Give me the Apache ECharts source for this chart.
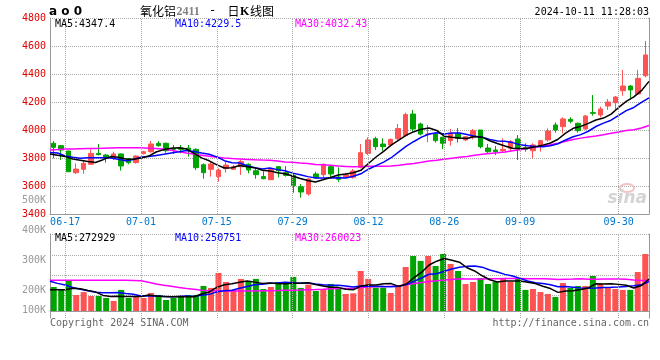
<!DOCTYPE html>
<html><head><meta charset="utf-8">
<script src="https://cdn.jsdelivr.net/npm/echarts@6/dist/echarts.min.js"></script>
<style>html,body{margin:0;padding:0;background:#fff}#c{width:660px;height:360px}</style>
</head><body><div id="c"></div>
<script>
// ---------- data ----------
const dates = ['06-13','06-14','06-17','06-18','06-19','06-20','06-21','06-24','06-25','06-26','06-27','06-28',
'07-01','07-02','07-03','07-04','07-05','07-08','07-09','07-10','07-11','07-12',
'07-15','07-16','07-17','07-18','07-19','07-22','07-23','07-24','07-25','07-26',
'07-29','07-30','07-31','08-01','08-02','08-05','08-06','08-07','08-08','08-09',
'08-12','08-13','08-14','08-15','08-16','08-19','08-20','08-21','08-22','08-23',
'08-26','08-27','08-28','08-29','08-30','09-02','09-03','09-04','09-05','09-06',
'09-09','09-10','09-11','09-12','09-13','09-18','09-19','09-20',
'09-23','09-24','09-25','09-26','09-27','09-30','10-08','10-09','10-10','10-11'];
const tickDates = ['06-17','07-01','07-15','07-29','08-12','08-26','09-09','09-30'];

const open = [3905,3888,3850,3695,3719,3755,3833,3821,3802,3829,3795,3767,3831,3845,3905,3905,3869,3871,3871,3862,
3752,3719,3667,3724,3719,3738,3755,3709,3667,3645,3738,3695,3676,3595,3543,3686,3681,3738,3664,3662,
3662,3733,3833,3938,3900,3893,3938,3960,4114,4043,3967,3971,3948,3924,3976,3929,3948,4000,3871,3857,
3852,3869,3936,3874,3852,3886,3929,4036,4024,4076,4048,4007,4124,4107,4171,4195,4281,4314,4257,4388];
const close = [3876,3857,3702,3721,3762,3833,3824,3800,3829,3743,3767,3814,3845,3900,3888,3852,3862,3862,3857,3731,
3695,3757,3714,3750,3738,3774,3714,3681,3652,3719,3709,3676,3602,3557,3650,3657,3755,3686,3648,3681,
3707,3838,3929,3881,3881,3933,4010,4110,4007,3971,3971,3924,3905,3976,3940,3952,3995,3881,3845,3845,
3862,3917,3864,3862,3893,3924,3993,4000,4079,4062,3995,4100,4119,4150,4200,4236,4314,4286,4369,4536];
const high = [3921,3893,3852,3762,3786,3862,3900,3829,3845,3833,3800,3821,3852,3921,3921,3910,3893,3893,3893,3869,
3762,3774,3726,3774,3750,3786,3762,3726,3714,3721,3743,3743,3686,3614,3655,3702,3762,3750,3733,3695,
3721,3900,3948,3952,3940,3940,4043,4124,4143,4052,4036,3981,3952,4007,4014,3957,4007,4000,3900,3886,
3940,3929,3964,3905,3905,3929,4012,4055,4091,4091,4052,4107,4250,4167,4221,4243,4429,4321,4429,4636];
const low = [3798,3786,3700,3686,3686,3750,3819,3767,3786,3710,3755,3760,3826,3838,3881,3838,3829,3833,3810,3714,
3652,3667,3631,3695,3714,3679,3690,3652,3648,3643,3662,3667,3552,3517,3531,3652,3662,3662,3629,3655,
3652,3726,3821,3857,3852,3881,3924,3952,3988,3962,3912,3910,3864,3888,3910,3921,3933,3869,3829,3821,
3845,3845,3786,3845,3798,3845,3917,3981,3976,4048,3981,4000,4102,4091,4143,4143,4245,4221,4250,4376];

const ma5 = [3829,3819,3810,3793,3784,3775,3768,3788,3810,3806,3793,3791,3800,3814,3843,3860,3869,3873,3864,3833,
3801,3780,3751,3729,3731,3747,3738,3731,3712,3708,3695,3687,3672,3653,3639,3628,3644,3661,3679,3685,
3695,3712,3761,3807,3847,3892,3927,3963,3988,4006,4014,3997,3956,3949,3943,3939,3954,3949,3923,3904,
3886,3870,3867,3870,3880,3892,3907,3934,3978,4012,4026,4047,4071,4085,4113,4161,4204,4237,4281,4347.4];
const ma10 = [3840,3836,3814,3805,3798,3802,3802,3802,3800,3791,3780,3790,3805,3810,3818,3826,3835,3844,3854,3847,
3835,3827,3808,3781,3766,3764,3745,3730,3722,3728,3717,3709,3692,3681,3667,3658,3658,3657,3659,3657,
3670,3687,3720,3746,3771,3802,3844,3885,3918,3949,3971,3980,3972,3978,3979,3968,3955,3949,3933,3922,
3920,3910,3895,3887,3883,3881,3887,3902,3929,3952,3967,3991,4025,4049,4070,4104,4138,4161,4197,4229.5];
const ma30 = [3857,3860,3864,3865,3866,3867,3868,3870,3872,3873,3874,3874,3873,3870,3867,3862,3855,3845,3835,3826,
3819,3812,3805,3800,3796,3793,3790,3787,3785,3784,3778,3772,3769,3764,3760,3754,3752,3748,3742,3740,
3738,3739,3741,3741,3741,3743,3748,3756,3761,3769,3779,3784,3791,3798,3805,3811,3820,3827,3833,3837,
3843,3851,3859,3869,3878,3886,3894,3905,3919,3932,3942,3950,3957,3966,3976,3986,3996,4002,4014,4032.43];

// volume in thousands of lots
const volume = [205,188,262,137,162,128,128,111,86,180,111,128,111,154,137,94,111,128,137,137,
214,197,325,248,180,274,257,274,188,205,248,248,291,197,225,171,188,231,194,145,
151,342,274,200,200,154,222,376,470,428,470,385,487,402,342,231,248,282,231,248,
274,248,282,180,188,162,145,120,239,197,214,214,299,231,205,188,180,180,333,487];
const vma5 = [182,182,182,194,190.8,175.4,163.4,133.2,123,126.6,123.2,123.2,123.2,136.8,128.2,124.8,121.4,124.8,121.4,121.4,
145.4,162.6,202,224.2,232.8,244.8,256.8,246.6,234.6,239.6,234.4,232.6,236,237.8,241.8,226.4,214.4,202.4,201.8,185.8,
181.8,212.6,221.2,222.4,233.4,234,210,230.4,284.4,330,393.2,425.8,448,434.4,417.2,369.4,342,301,266.8,248,
256.6,256.6,256.6,246.4,234.4,212,191.4,159,170.8,172.6,183,196.8,232.6,231,232.6,227.4,220.6,196.8,217.2,272.929];
const vma10 = [254,236,222,200,185,172,160,155,155,158.7,149.3,143.3,128.2,129.9,127.4,124,122.3,124,129.1,124.8,
135.1,142,163.4,172.8,177.1,195.1,209.7,224.3,229.4,236.2,239.6,244.7,241.3,236.2,240.7,230.4,223.5,219.2,219.8,213.8,
204.1,213.5,211.8,212.1,209.6,207.9,211.3,225.8,253.4,281.7,313.6,317.9,339.2,359.4,373.6,381.3,383.9,374.5,350.6,332.6,
313,299.3,278.8,256.6,241.2,234.3,224,207.8,208.6,203.5,197.5,194.1,195.8,200.9,202.6,205.2,208.7,214.7,224.1,250.751];
const vma30 = [262,262,262,262,262,262,262,262,262,262,262,261,258,245,230,220,212,200,192,185,
178,174,171,170,170,170,170,171,172,173.2,174.7,176.7,177.6,179.6,181.7,183.2,185.2,189.2,192.8,191.6,
192.9,200.1,205.5,207,209.1,211.1,214.8,223.1,234.2,243.9,252.4,258.7,264.1,269.2,274.6,273.2,272.9,273.2,274.6,276,
276.9,276.9,276.6,276,274.8,274.5,273.1,269.4,270.9,272.6,274.7,270.4,271.3,272.3,272.5,273.6,272.2,265.7,261.1,260.023];

const priceLegend = ['MA5:4347.4','MA10:4229.5','MA30:4032.43'];
const volLegend = ['MA5:272929','MA10:250751','MA30:260023'];
const volAxisLabels = ['500K','400K','300K','200K','100K'];
const titleParts = ['氧化铝','2411','-','日','K','线图'];
const stamp = '2024-10-11 11:28:03';

// ---------- chart ----------
const RED = '#ff5353', GREEN = '#00a400';
const MONO = 'DejaVu Sans Mono';
const dotted = () => ({color:'#aaaaaa', width:1, type:[1,1]});
const solid = () => ({color:'#999', width:1});
const tickIdx = tickDates.map(d => dates.indexOf(d));
const isTick = i => tickIdx.indexOf(i) >= 0;

const chart = echarts.init(document.getElementById('c'), null, {renderer:'canvas', width:660, height:360});

function txt(text, x, y, fill, font, align) {
  return {type:'text', x:x, y:y, silent:true, z:100,
    style:{text:text, fill:fill, font:font, textAlign:align||'left', textVerticalAlign:'middle'}};
}
const legendColors = ['#000000','#0000ff','#ff00ff'];
const legendX = [55,175,295];
const g = [];
g.push(txt('a o 0', 49, 12, '#000', 'bold 12px "DejaVu Sans"'));
g.push(txt(titleParts[0], 140, 11, '#000', '12px "Noto Sans CJK SC"'));
g.push(txt(titleParts[1], 176.5, 11.5, '#808080', 'bold 12px "Liberation Serif"'));
g.push(txt(titleParts[2], 209, 11, '#000', '12px "DejaVu Sans Mono"'));
g.push(txt(titleParts[3], 227.5, 11, '#000', '12px "Noto Sans CJK SC"'));
g.push(txt(titleParts[4], 240, 11.5, '#000', 'bold 12px "Liberation Serif"'));
g.push(txt(titleParts[5], 250, 11, '#000', '12px "Noto Sans CJK SC"'));
g.push(txt(stamp, 649, 12, '#000', '10px "DejaVu Sans Mono"', 'right'));
priceLegend.forEach((s,k) => g.push(txt(s, legendX[k], 24, legendColors[k], '10px "DejaVu Sans Mono"')));
volLegend.forEach((s,k) => g.push(txt(s, legendX[k], 238.5, legendColors[k], '10px "DejaVu Sans Mono"')));
const volLabelY = [200.7, 230.7, 260.7, 290.7, 310.7];
volAxisLabels.forEach((s,k) => g.push(txt(s, 46, volLabelY[k], '#999', '10px "DejaVu Sans Mono"', 'right')));
g.push(txt('Copyright 2024 SINA.COM', 50, 323.5, '#666', '10px "DejaVu Sans Mono"'));
g.push(txt('http://finance.sina.com.cn', 649, 323.5, '#666', '10px "DejaVu Sans Mono"', 'right'));
g.push({type:'ellipse', silent:true, z:1, shape:{cx:627, cy:188, rx:7, ry:4}, style:{fill:'none', stroke:'#f4c4c4', lineWidth:2}});
g.push(txt('sina', 647, 199, '#d4d4d4', 'italic bold 17px "DejaVu Sans"', 'right'));
g[g.length-1].z = 1;

function noParts() {
  return {axisTick:{show:false}, axisLabel:{show:false}, splitLine:{show:false}, splitArea:{show:false},
          minorTick:{show:false}, minorSplitLine:{show:false}};
}
// vertical dotted grid lines at the labelled dates
function vLines() {
  return {silent:true, symbol:['none','none'], label:{show:false}, lineStyle:dotted(),
    emphasis:{disabled:true}, animation:false, data: tickIdx.map(i => ({xAxis:i}))};
}

const option = {
  animation:false,
  backgroundColor:'#fff',
  graphic:{elements:g},
  grid:[
    {left:50, top:18, width:599, height:196, containLabel:false, outerBoundsMode:'none'},
    {left:50, top:234, width:599, height:84, containLabel:false, outerBoundsMode:'none'},
    {left:50, top:235.7, width:599, height:80, containLabel:false, outerBoundsMode:'none'}
  ],
  xAxis:[
    Object.assign({type:'category', gridIndex:0, data:dates, boundaryGap:true, position:'top', show:false,
      axisLine:{show:false}}, noParts()),
    Object.assign({type:'category', gridIndex:0, data:dates, boundaryGap:false, position:'bottom',
      axisLine:{show:true, lineStyle:solid()}}, noParts(), {
      axisLabel:{show:true, interval:0, formatter:(v,i)=> isTick(i) ? v : '', color:'#0077cc', fontFamily:MONO, fontSize:10, margin:3,
        hideOverlap:false}}),
    Object.assign({type:'category', gridIndex:1, data:dates, boundaryGap:true, position:'top', show:false,
      axisLine:{show:false}}, noParts()),
    Object.assign({type:'category', gridIndex:1, data:dates, boundaryGap:false, position:'bottom',
      axisLine:{show:true, lineStyle:solid()}}, noParts()),
    Object.assign({type:'value', gridIndex:2, min:0, max:1, show:false}, noParts())
  ],
  yAxis:[
    Object.assign({type:'value', gridIndex:0, min:3400, max:4800, interval:200, position:'left',
      axisLine:{show:true, lineStyle:solid()}}, noParts(), {
      axisLabel:{show:true, formatter:(v)=>String(v), color:'#e00000', fontFamily:MONO, fontSize:10, margin:4, padding:[0,0,2,0]},
      splitLine:{show:true, lineStyle:dotted(), showMinLine:false, showMaxLine:true}}),
    Object.assign({type:'value', gridIndex:0, min:3400, max:4800, position:'right',
      axisLine:{show:true, lineStyle:solid()}}, noParts()),
    Object.assign({type:'value', gridIndex:1, min:-60, max:658, interval:718, position:'left',
      axisLine:{show:true, lineStyle:solid()}}, noParts(), {
      splitLine:{show:true, lineStyle:dotted(), showMinLine:false, showMaxLine:true}}),
    Object.assign({type:'value', gridIndex:1, min:-60, max:658, position:'right',
      axisLine:{show:true, lineStyle:solid()}}, noParts()),
    Object.assign({type:'value', gridIndex:2, min:0, max:80, interval:20,
      axisLine:{show:false}}, noParts(), {
      splitLine:{show:true, lineStyle:dotted(), showMinLine:false, showMaxLine:false}})
  ],
  series:[
    {type:'line', xAxisIndex:1, yAxisIndex:0, data:[], z:0, silent:true, markLine:vLines()},
    {type:'line', xAxisIndex:3, yAxisIndex:2, data:[], z:0, silent:true, markLine:vLines()},
    {type:'candlestick', xAxisIndex:0, yAxisIndex:0, barWidth:5, silent:true,
      data: open.map((o,i)=>[o, close[i], low[i], high[i]]),
      itemStyle:{color:RED, color0:GREEN, borderColor:RED, borderColor0:GREEN, borderWidth:1}},
    {type:'line', xAxisIndex:1, yAxisIndex:0, data:ma30, symbol:'none', silent:true, lineStyle:{color:'#ff00ff', width:1.5}},
    {type:'line', xAxisIndex:1, yAxisIndex:0, data:ma10, symbol:'none', silent:true, lineStyle:{color:'#0000ff', width:1.5}},
    {type:'line', xAxisIndex:1, yAxisIndex:0, data:ma5, symbol:'none', silent:true, lineStyle:{color:'#000000', width:1.5}},
    {type:'bar', xAxisIndex:2, yAxisIndex:2, barWidth:6, silent:true,
      data: volume.map((v,i)=>({value:v, itemStyle:{color: close[i] > open[i] ? RED : GREEN}}))},
    {type:'line', xAxisIndex:3, yAxisIndex:2, data:vma30, symbol:'none', silent:true, lineStyle:{color:'#ff00ff', width:1.5}},
    {type:'line', xAxisIndex:3, yAxisIndex:2, data:vma10, symbol:'none', silent:true, lineStyle:{color:'#0000ff', width:1.5}},
    {type:'line', xAxisIndex:3, yAxisIndex:2, data:vma5, symbol:'none', silent:true, lineStyle:{color:'#000000', width:1.5}}
  ]
};
chart.setOption(option);
</script>
</body></html>
